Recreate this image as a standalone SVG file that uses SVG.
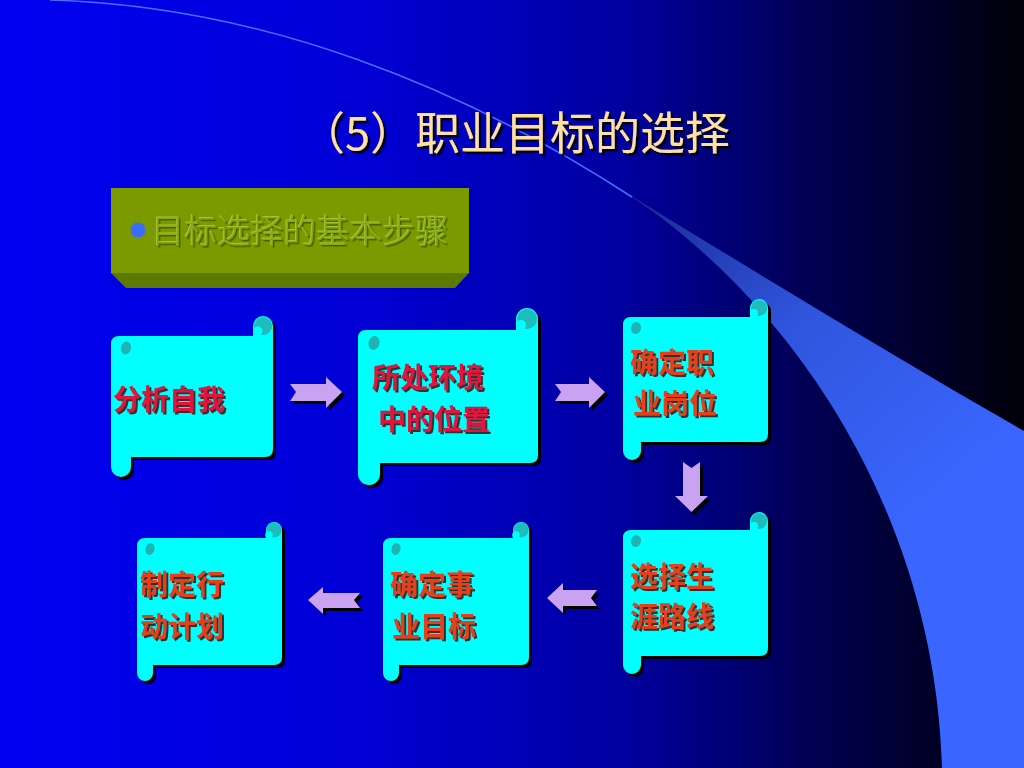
<svg xmlns="http://www.w3.org/2000/svg" width="1024" height="768" viewBox="0 0 1024 768">
<defs>
<linearGradient id="bg" x1="0" y1="0" x2="1" y2="0">
<stop offset="0" stop-color="#0000f2"/>
<stop offset="0.35" stop-color="#0000d6"/>
<stop offset="0.6" stop-color="#0000a2"/>
<stop offset="0.8" stop-color="#000050"/>
<stop offset="1" stop-color="#000008"/>
</linearGradient>
<linearGradient id="sw" gradientUnits="userSpaceOnUse" x1="640" y1="200" x2="920" y2="520">
<stop offset="0" stop-color="#1c2a96"/>
<stop offset="0.45" stop-color="#2f55dc"/>
<stop offset="1" stop-color="#3a66ff"/>
</linearGradient>
<filter id="tsh" x="-10%" y="-30%" width="120%" height="160%">
<feDropShadow dx="2.5" dy="2.5" stdDeviation="0.4" flood-color="#000000" flood-opacity="0.9"/>
</filter>
<filter id="nsh" x="-10%" y="-30%" width="120%" height="160%">
<feDropShadow dx="2" dy="2" stdDeviation="0.4" flood-color="#3a1010" flood-opacity="0.85"/>
</filter>
<filter id="ssh" x="-10%" y="-30%" width="120%" height="160%">
<feDropShadow dx="-1" dy="-1" stdDeviation="0.2" flood-color="#a8ca34" flood-opacity="0.9"/>
<feDropShadow dx="1.5" dy="1.5" stdDeviation="0.3" flood-color="#465a00" flood-opacity="0.95"/>
</filter>
<style>
.body{fill:#00ffff}
.shadow{fill:#000000}
.curl{fill:#1fbcbc}
.hook{fill:#00ffff}
.leaf{fill:#1fb4b4}
.arrow{fill:#caa2f2}
.ashadow{fill:#000000}
.nt{font-family:"Noto Sans CJK SC","Noto Sans CJK JP",sans-serif;font-size:28px;font-weight:bold;filter:url(#nsh)}
.red{fill:#e0143c}
.org{fill:#e4401a}
.title{font-family:"Noto Sans CJK SC","Noto Sans CJK JP",sans-serif;font-size:45px;fill:#ffe0a0;filter:url(#tsh)}
.sub{font-family:"Noto Sans CJK SC","Noto Sans CJK JP",sans-serif;font-size:33px;font-weight:300;fill:#86a80e;filter:url(#ssh)}
</style>
</defs>

<rect x="0" y="0" width="1024" height="768" fill="url(#bg)"/>
<path d="M 630,195 C 760,275 900,360 1024,431 V 768 H 942 C 935,520 800,310 632,197 Z" fill="url(#sw)"/>
<path d="M 50,0 C 260,6 460,85 632,197" fill="none" stroke="#4a6cff" stroke-width="1.5"/>

<g id="title">
<text class="title" x="300" y="150">（5）职业目标的选择</text>
</g>

<g id="subtitle">
<polygon points="111,273 469,273 455,288 126,288" fill="#5d7a00"/>
<rect x="111" y="188" width="358" height="85" fill="#7a9a00"/>
<circle cx="138" cy="230" r="7.5" fill="#3a6cff"/>
<text class="sub" x="151.5" y="242.5">目标选择的基本步骤</text>
</g>

<g id="connectors">
<g transform="translate(3,3)">
<path class="ashadow" d="M 290,384 H 326 V 377 L 342,392 L 326,408 V 401 H 290 L 296,392 Z"/>
<path class="ashadow" d="M 555,384 H 589 V 377 L 605,392 L 589,408 V 401 H 555 L 561,392 Z"/>
<path class="ashadow" d="M 683,462 L 691.5,468 L 700,462 V 496 H 708 L 691.5,512 L 675,496 H 683 Z"/>
<path class="ashadow" d="M 547,598 L 563,583 V 590 H 597 L 591,598 L 597,606 H 563 V 613 Z"/>
<path class="ashadow" d="M 308,600 L 323,587 V 593 H 360 L 354,600 L 360,608 H 323 V 614 Z"/>
</g>
<path class="arrow" d="M 290,384 H 326 V 377 L 342,392 L 326,408 V 401 H 290 L 296,392 Z"/>
<path class="arrow" d="M 555,384 H 589 V 377 L 605,392 L 589,408 V 401 H 555 L 561,392 Z"/>
<path class="arrow" d="M 683,462 L 691.5,468 L 700,462 V 496 H 708 L 691.5,512 L 675,496 H 683 Z"/>
<path class="arrow" d="M 547,598 L 563,583 V 590 H 597 L 591,598 L 597,606 H 563 V 613 Z"/>
<path class="arrow" d="M 308,600 L 323,587 V 593 H 360 L 354,600 L 360,608 H 323 V 614 Z"/>
</g>

<g id="node1">
<path class="shadow" transform="translate(3,3)" d="M 119,336 H 253 V 326 A 10 10 0 0 1 273,326 V 449 Q 273,457 265,457 H 131 V 467 A 10 10 0 0 1 111,467 V 344 Q 111,336 119,336 Z"/>
<path class="body" d="M 119,336 H 253 V 326 A 10 10 0 0 1 273,326 V 449 Q 273,457 265,457 H 131 V 467 A 10 10 0 0 1 111,467 V 344 Q 111,336 119,336 Z"/>
<circle class="curl" cx="263" cy="326" r="9"/>
<circle class="hook" cx="258" cy="331" r="4.5"/>
<ellipse class="leaf" cx="126" cy="348" rx="5" ry="6.5" transform="rotate(15 126 348)"/>
<text class="nt red" x="113" y="410">分析自我</text>
</g>

<g id="node2">
<path class="shadow" transform="translate(3,3)" d="M 366,330 H 516 V 319 A 11 11 0 0 1 538,319 V 455 Q 538,463 530,463 H 380 V 474 A 11 11 0 0 1 358,474 V 338 Q 358,330 366,330 Z"/>
<path class="body" d="M 366,330 H 516 V 319 A 11 11 0 0 1 538,319 V 455 Q 538,463 530,463 H 380 V 474 A 11 11 0 0 1 358,474 V 338 Q 358,330 366,330 Z"/>
<circle class="curl" cx="527" cy="319" r="10"/>
<circle class="hook" cx="521" cy="325" r="5"/>
<ellipse class="leaf" cx="374" cy="343" rx="5.5" ry="7" transform="rotate(15 374 343)"/>
<text class="nt red" x="372" y="388">所处环境</text>
<text class="nt red" x="378" y="430">中的位置</text>
</g>

<g id="node3">
<path class="shadow" transform="translate(3,3)" d="M 631,317 H 750 V 308 A 9 9 0 0 1 768,308 V 434 Q 768,442 760,442 H 641 V 451 A 9 9 0 0 1 623,451 V 325 Q 623,317 631,317 Z"/>
<path class="body" d="M 631,317 H 750 V 308 A 9 9 0 0 1 768,308 V 434 Q 768,442 760,442 H 641 V 451 A 9 9 0 0 1 623,451 V 325 Q 623,317 631,317 Z"/>
<circle class="curl" cx="759" cy="308" r="8"/>
<circle class="hook" cx="754" cy="313" r="4"/>
<ellipse class="leaf" cx="636" cy="328" rx="5" ry="6" transform="rotate(15 636 328)"/>
<text class="nt org" x="630" y="373">确定职</text>
<text class="nt org" x="633" y="414">业岗位</text>
</g>

<g id="node4">
<path class="shadow" transform="translate(3,3)" d="M 631,530 H 750 V 521 A 9 9 0 0 1 768,521 V 648 Q 768,656 760,656 H 641 V 665 A 9 9 0 0 1 623,665 V 538 Q 623,530 631,530 Z"/>
<path class="body" d="M 631,530 H 750 V 521 A 9 9 0 0 1 768,521 V 648 Q 768,656 760,656 H 641 V 665 A 9 9 0 0 1 623,665 V 538 Q 623,530 631,530 Z"/>
<circle class="curl" cx="759" cy="521" r="8"/>
<circle class="hook" cx="754" cy="526" r="4"/>
<ellipse class="leaf" cx="636" cy="541" rx="5" ry="6" transform="rotate(15 636 541)"/>
<text class="nt org" x="630" y="587">选择生</text>
<text class="nt org" x="630" y="627">涯路线</text>
</g>

<g id="node5">
<path class="shadow" transform="translate(3,3)" d="M 391,538 H 513 V 530 A 8 8 0 0 1 529,530 V 657 Q 529,665 521,665 H 399 V 673 A 8 8 0 0 1 383,673 V 546 Q 383,538 391,538 Z"/>
<path class="body" d="M 391,538 H 513 V 530 A 8 8 0 0 1 529,530 V 657 Q 529,665 521,665 H 399 V 673 A 8 8 0 0 1 383,673 V 546 Q 383,538 391,538 Z"/>
<circle class="curl" cx="521" cy="530" r="7.5"/>
<circle class="hook" cx="516" cy="535" r="3.8"/>
<ellipse class="leaf" cx="396" cy="549" rx="4.5" ry="6" transform="rotate(15 396 549)"/>
<text class="nt org" x="390" y="595">确定事</text>
<text class="nt org" x="392" y="637">业目标</text>
</g>

<g id="node6">
<path class="shadow" transform="translate(3,3)" d="M 145,538 H 266 V 530 A 8 8 0 0 1 282,530 V 657 Q 282,665 274,665 H 153 V 673 A 8 8 0 0 1 137,673 V 546 Q 137,538 145,538 Z"/>
<path class="body" d="M 145,538 H 266 V 530 A 8 8 0 0 1 282,530 V 657 Q 282,665 274,665 H 153 V 673 A 8 8 0 0 1 137,673 V 546 Q 137,538 145,538 Z"/>
<circle class="curl" cx="274" cy="530" r="7.5"/>
<circle class="hook" cx="269" cy="535" r="3.8"/>
<ellipse class="leaf" cx="150" cy="549" rx="4.5" ry="6" transform="rotate(15 150 549)"/>
<text class="nt org" x="140" y="595">制定行</text>
<text class="nt org" x="140" y="637">动计划</text>
</g>
</svg>
